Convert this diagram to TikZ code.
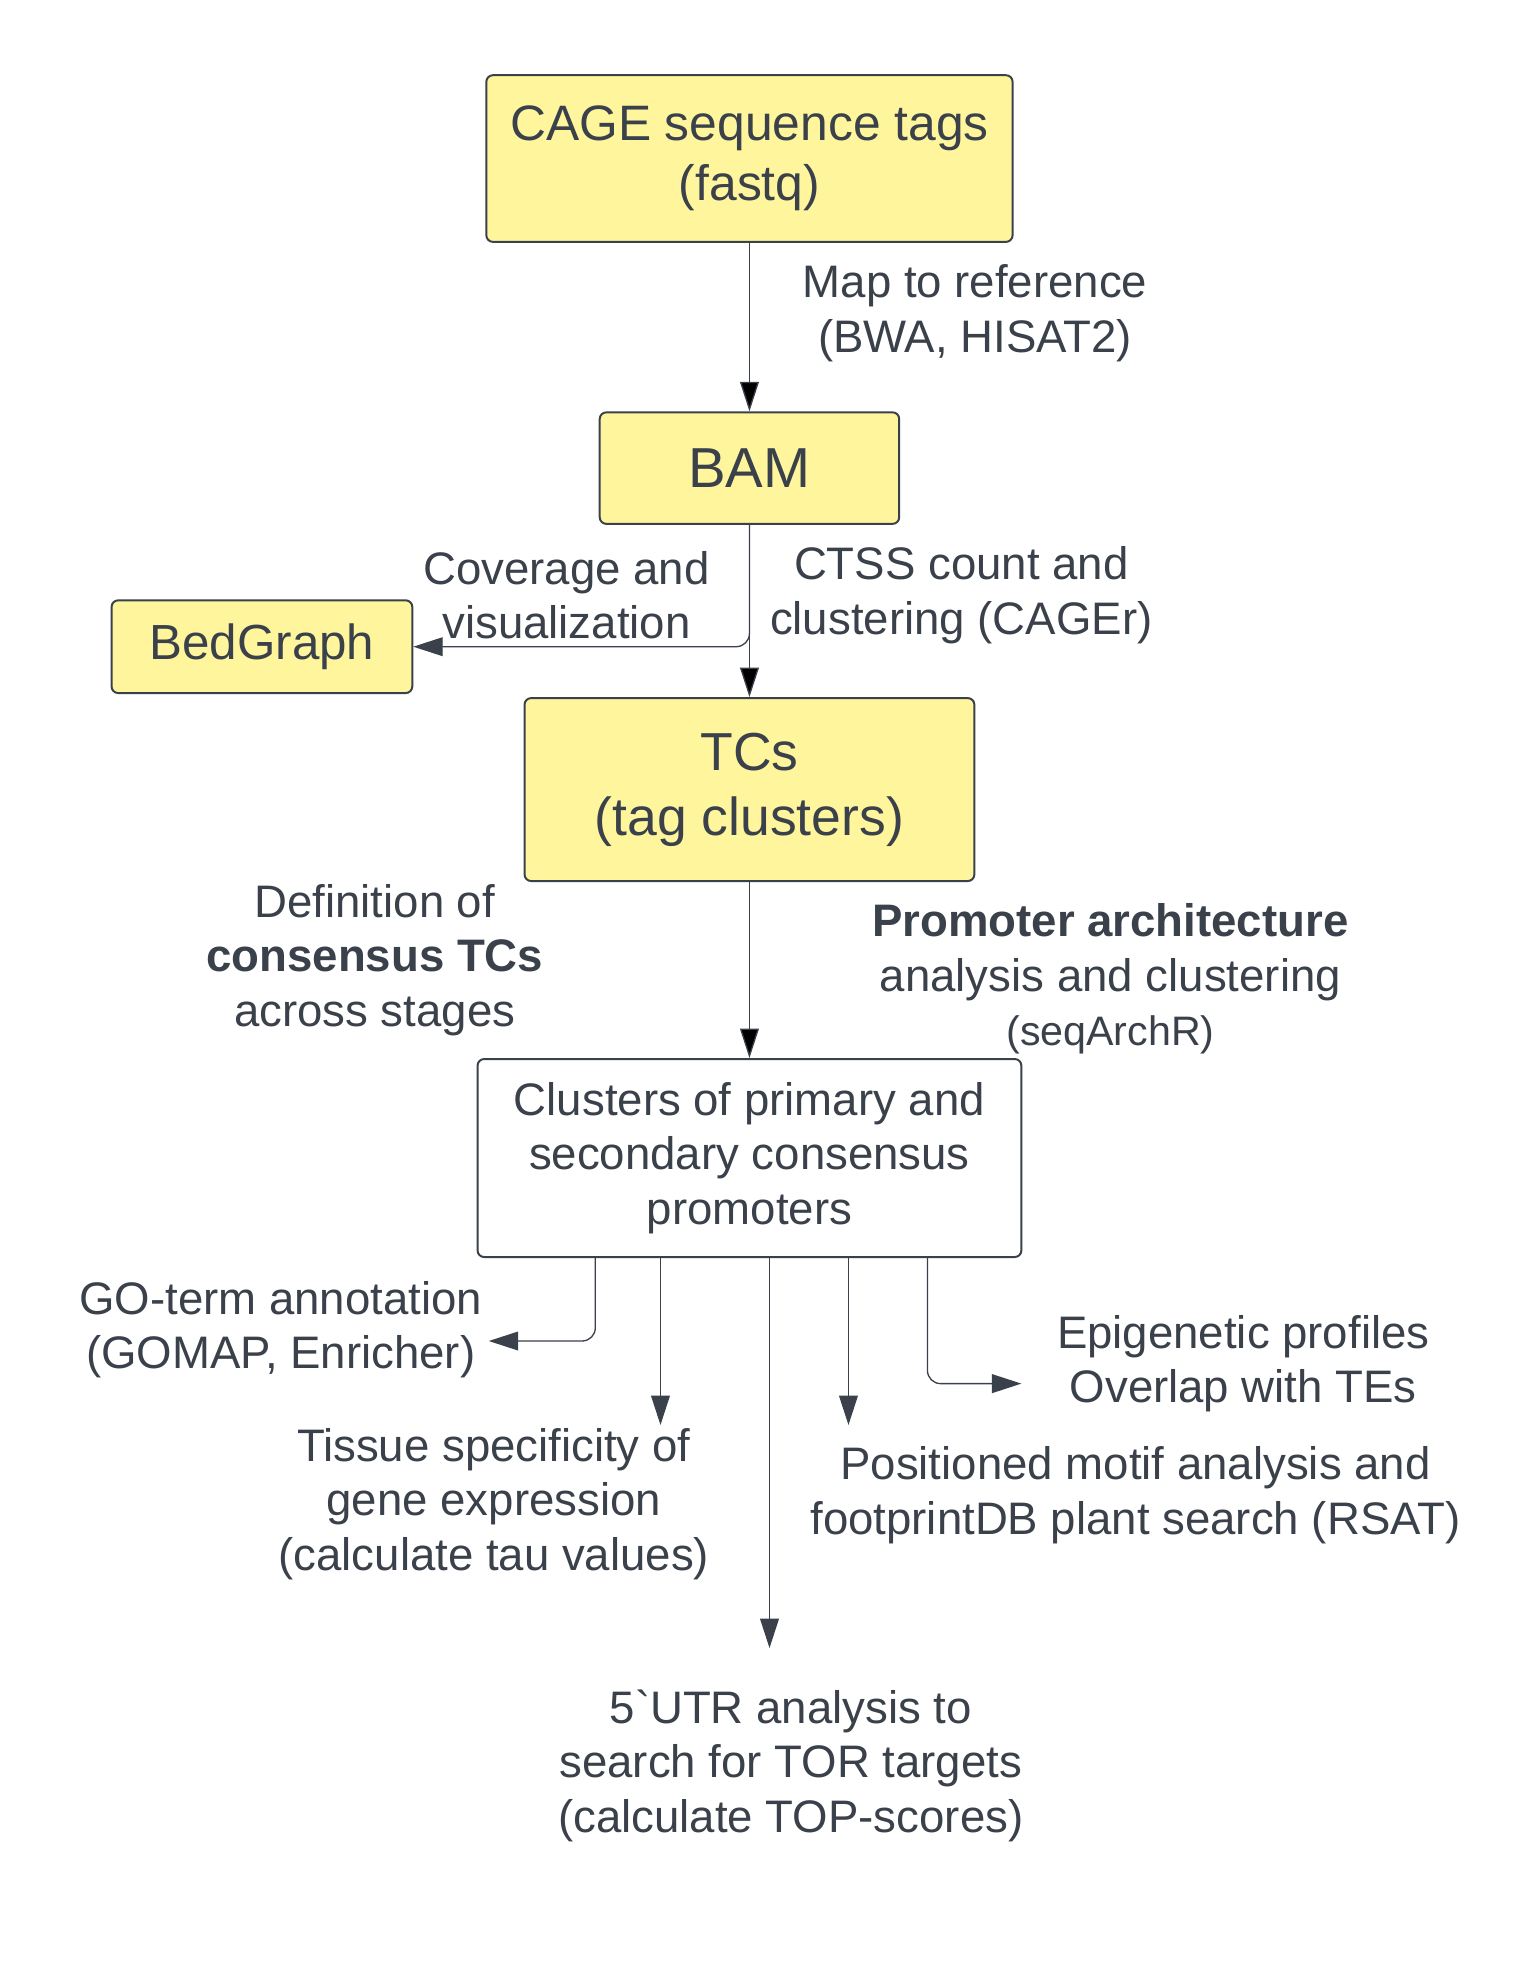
\documentclass[tikz,border=0pt]{standalone}
\usepackage{fontspec}
\setmainfont{Liberation Sans}
\usetikzlibrary{arrows.meta}
\usetikzlibrary{calc}
\definecolor{ink}{HTML}{3A414A}
\definecolor{tagyellow}{HTML}{FFF59D}
\tikzset{
  stage/.style={draw=ink, line width=0.9pt, fill=tagyellow, rounded corners=3pt,
    text=ink, align=center},
  note/.style={text=ink, align=center, inner sep=1pt,
    font=\fontsize{20.7}{24.7}\selectfont},
  flow/.style={draw=ink, line width=0.6pt,
    -{Triangle[length=0.47cm,width=0.3cm]}},
  elbow/.style={rounded corners=6pt}
}
\begin{document}
\begin{tikzpicture}[x=0.02cm, y=-0.02cm]
\useasboundingbox (0,0) rectangle (1228,1566.3);
% boxes
\node[stage, minimum width=8.4cm, minimum height=2.66cm, font=\fontsize{22.6}{27.1}\selectfont] (cage) at (598,126.5) {CAGE sequence tags\\(fastq)};
\node[stage, minimum width=4.78cm, minimum height=1.78cm, font=\fontsize{25.6}{30}\selectfont] (bam) at (598,373.5) {BAM};
\node[stage, minimum width=4.8cm, minimum height=1.48cm, font=\fontsize{22.4}{27}\selectfont] (bed) at (209,516) {BedGraph};
\node[stage, minimum width=7.18cm, minimum height=2.92cm, font=\fontsize{24.3}{29.5}\selectfont] (tcs) at (598,630) {TCs\\(tag clusters)};
\node[stage, fill=white, minimum width=8.68cm, minimum height=3.16cm, font=\fontsize{20.7}{24.7}\selectfont] (clus) at (598,924) {Clusters of primary and\\secondary consensus\\promoters};
% labels
\node[note] (map) at (778,250) {Map to reference\\(BWA, HISAT2)};
\node[note] (cov) at (452,475) {Coverage and\\visualization};
\node[note] (ctss) at (767,475) {CTSS count and\\clustering (CAGEr)};
\node[note] (def) at (299,766) {Definition of\\\textbf{consensus TCs}\\across stages};
\node[note] (arch) at (886,781) {\textbf{Promoter architecture}\\analysis and clustering\\{\fontsize{18.7}{24.7}\selectfont (seqArchR)}};
\node[note] (go) at (224,1061) {GO-term annotation\\(GOMAP, Enricher)};
\node[note] (tis) at (394,1200) {Tissue specificity of\\gene expression\\(calculate tau values)};
\node[note] (epi) at (992,1088) {Epigenetic profiles\\Overlap with TEs};
\node[note] (mot) at (906,1193) {Positioned motif analysis and\\footprintDB plant search (RSAT)};
\node[note] (utr) at (631,1409) {5\textasciigrave UTR analysis to\\search for TOR targets\\(calculate TOP-scores)};
% outputs of the promoter clusters
\coordinate (p1) at ($(clus.south)+(-123,0)$);
\coordinate (p2) at ($(clus.south)+(-71,0)$);
\coordinate (p3) at ($(clus.south)+(16,0)$);
\coordinate (p4) at ($(clus.south)+(79,0)$);
\coordinate (p5) at ($(clus.south)+(142,0)$);
\coordinate (t1) at (390,1070);
\coordinate (t2) at (527,1137);
\coordinate (t3) at (614,1315);
\coordinate (t4) at (677,1137);
\coordinate (t5) at (815,1104);
\draw[flow]
(cage) edge (bam)
(bam) edge (tcs)
(tcs) edge (clus);
\draw[flow, elbow] (bam.south) |- (bed.east);
\draw[flow, elbow] (p1) |- (t1);
\draw[flow] (p2) -- (t2);
\draw[flow] (p3) -- (t3);
\draw[flow] (p4) -- (t4);
\draw[flow, elbow] (p5) |- (t5);
\end{tikzpicture}
\end{document}
